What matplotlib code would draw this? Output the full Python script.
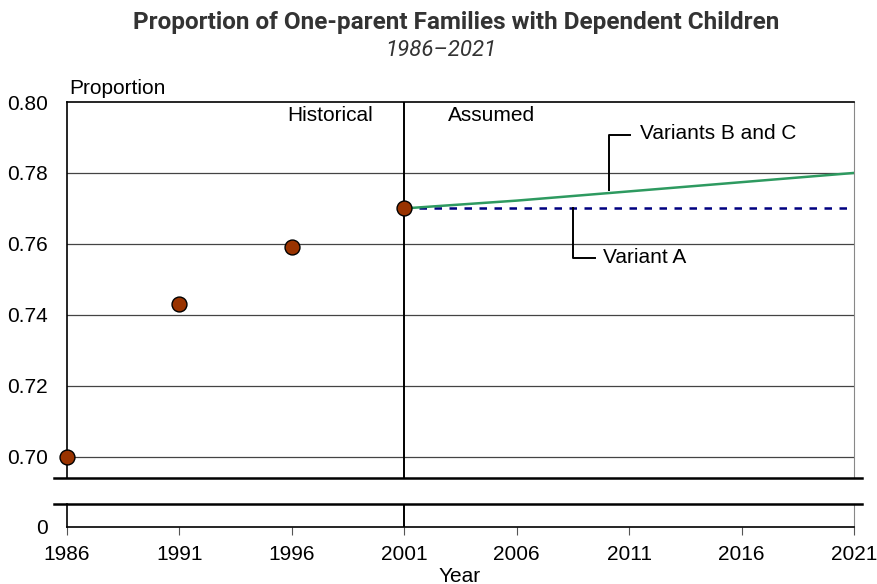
import numpy as np
import matplotlib
matplotlib.use("Agg")
import matplotlib.pyplot as plt
from matplotlib.lines import Line2D

# data
hist_years = [1986, 1991, 1996, 2001]
hist_values = [0.700, 0.743, 0.759, 0.770]

proj_years = [2001, 2006, 2011, 2016, 2021]
variant_bc = [0.770, 0.7722, 0.7748, 0.7774, 0.780]
variant_a = [0.770, 0.770, 0.770, 0.770, 0.770]

x_ticks = [1986, 1991, 1996, 2001, 2006, 2011, 2016, 2021]
y_ticks = [0.70, 0.72, 0.74, 0.76, 0.78, 0.80]

plt.rcParams['font.family'] = ['Liberation Sans', 'DejaVu Sans']
FS = 15

W, H = 878, 584
fig = plt.figure(figsize=(W / 100, H / 100), dpi=100)

def fx(px):
    return px / W

def fy(py):
    return 1 - py / H

left, right = 67, 854
ax = fig.add_axes([fx(left), fy(478), fx(right - left), fy(102) - fy(478)])
ax2 = fig.add_axes([fx(left), fy(527), fx(right - left), fy(504) - fy(527)])

# main panel
ax.set_xlim(1986, 2021)
ax.set_ylim(0.694, 0.80)
ax.set_yticks(y_ticks)
ax.set_yticklabels([f"{v:.2f}" for v in y_ticks], fontsize=FS)
ax.set_xticks([])
for v in y_ticks[:-1]:
    ax.axhline(v, color='#444444', lw=0.9, zorder=1)
ax.spines['top'].set_color('black')
ax.spines['top'].set_linewidth(1.2)
ax.spines['left'].set_color('black')
ax.spines['left'].set_linewidth(1.2)
ax.spines['right'].set_color('#888888')
ax.spines['bottom'].set_visible(False)
ax.tick_params(axis='y', length=0, pad=14)

ax.axvline(2001, color='black', lw=1.4, zorder=2)

ax.plot(proj_years, variant_a, color='#000080', lw=1.8, ls=(0, (3, 3)), zorder=3)
ax.plot(proj_years, variant_bc, color='#2e9a60', lw=1.8, zorder=3)
ax.scatter(hist_years, hist_values, s=115, color='#993300', edgecolor='black',
           linewidth=1, zorder=5, clip_on=False)

ax.text(1997.7, 0.7961, "Historical", fontsize=FS, ha='center', va='center')
ax.text(2004.86, 0.7961, "Assumed", fontsize=FS, ha='center', va='center')
ax.text(1986.1, 0.8039, "Proportion", fontsize=FS, ha='left', va='center', clip_on=False)

# leader lines for variant labels
ax.plot([2010.1, 2010.1, 2011.04], [0.7752, 0.7907, 0.7907], color='black', lw=1.4, zorder=4)
ax.text(2011.5, 0.7910, "Variants B and C", fontsize=FS, ha='left', va='center')
ax.plot([2008.5, 2008.5, 2009.5], [0.770, 0.7561, 0.7561], color='black', lw=1.4, zorder=4)
ax.text(2009.85, 0.7561, "Variant A", fontsize=FS, ha='left', va='center')

# bottom panel (broken axis)
ax2.set_xlim(1986, 2021)
ax2.set_ylim(0, 1)
ax2.set_yticks([0])
ax2.set_yticklabels(["0"], fontsize=FS)
ax2.set_xticks(x_ticks)
ax2.set_xticklabels([str(y) for y in x_ticks], fontsize=FS)
ax2.tick_params(axis='y', length=0, pad=14)
ax2.tick_params(axis='x', length=6, direction='out', pad=7, color='#555555')
ax2.spines['top'].set_visible(False)
ax2.spines['right'].set_color('#888888')
ax2.spines['left'].set_linewidth(1.2)
ax2.spines['bottom'].set_linewidth(1.2)
ax2.axvline(2001, color='black', lw=1.4)

# break lines
for py in (478, 504):
    fig.add_artist(Line2D([fx(54), fx(862)], [fy(py), fy(py)], color='black', lw=1.8))

fig.text(fx(460), fy(576), "Year", fontsize=FS, ha='center', va='center')

fig.text(fx(456), fy(22), "Proportion of One-parent Families with Dependent Children",
         fontsize=17.5, fontweight='bold', ha='center', va='center', color='#333333',
         family=['Roboto', 'DejaVu Sans'])
fig.text(fx(441), fy(51), "1986\u20132021", fontsize=16, style='italic', ha='center',
         va='center', color='#333333', family=['Roboto', 'DejaVu Sans'])

fig.savefig("out.png", dpi=100)
